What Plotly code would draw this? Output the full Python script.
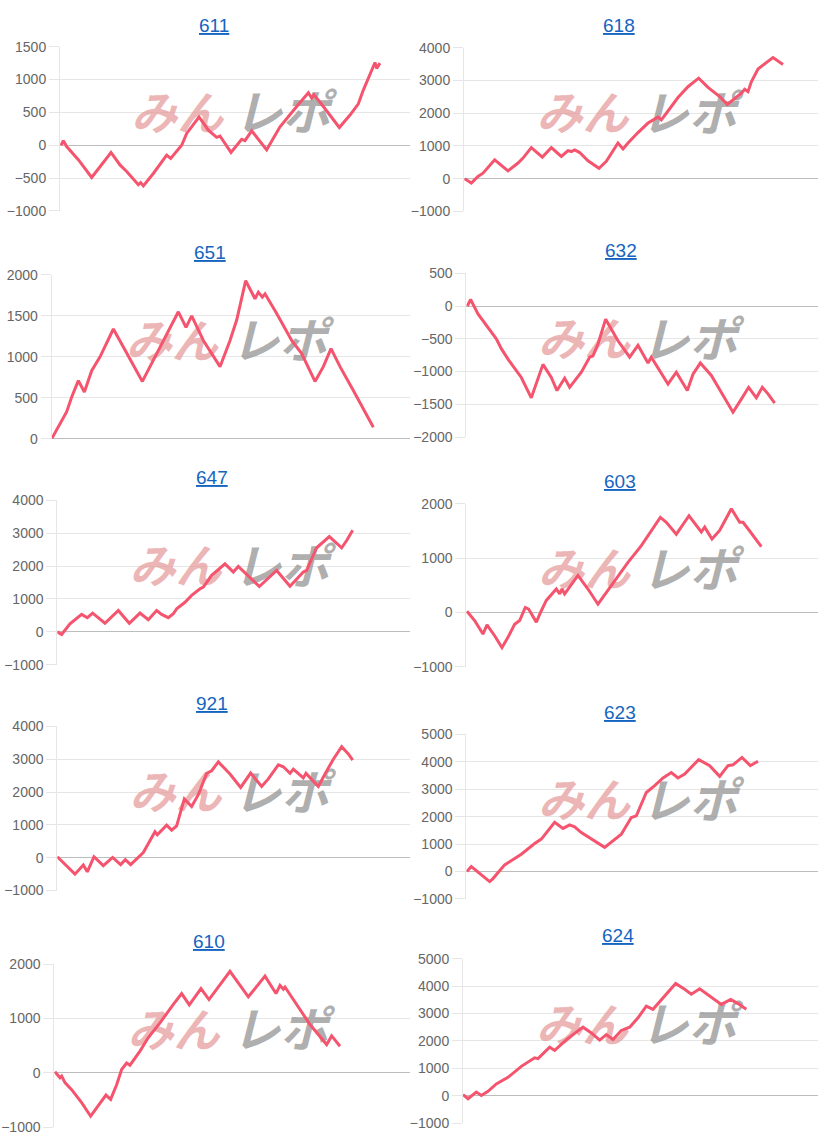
import plotly.graph_objects as go

W, H = 818, 1140

# ---------------- data (x = games, y = difference in coins) ----------------
titles = ["611", "618", "651", "632", "647", "603", "921", "623", "610", "624"]

x_611 = [30, 100, 200, 550, 950, 1200, 1530, 1800, 2000, 2350, 2420, 2500, 2800, 3200, 3320, 3650, 3800, 4170,
         4450, 4700, 4800, 5130, 5450, 5550, 5750, 6200, 6600, 7100, 7450, 7550, 7620, 7900, 8380, 8700, 8950,
         9100, 9300, 9450, 9500, 9600]
y_611 = [0, 70, -20, -220, -490, -320, -110, -300, -400, -600, -570, -620, -430, -150, -200, 0, 180, 430,
         230, 120, 140, -110, 90, 70, 220, -70, 280, 590, 800, 720, 770, 590, 270, 460, 630,
         840, 1070, 1260, 1170, 1250]

x_618 = [20, 220, 420, 570, 920, 1320, 1620, 1770, 2020, 2350, 2620, 2920, 3120, 3220, 3320, 3470, 3720, 4050,
         4270, 4620, 4770, 4920, 5220, 5520, 5820, 5920, 6070, 6320, 6420, 6720, 7040, 7320, 7670, 7900, 8070,
         8320, 8420, 8520, 8620, 8820, 9270, 9570]
y_618 = [0, -130, 70, 170, 580, 240, 480, 630, 950, 660, 950, 680, 860, 830, 880, 800, 550, 320,
         530, 1090, 910, 1090, 1410, 1700, 1880, 1800, 2000, 2320, 2480, 2810, 3070, 2790, 2510, 2270, 2410,
         2610, 2730, 2660, 2960, 3350, 3700, 3490]

x_651 = [0, 250, 450, 600, 800, 980, 1200, 1450, 1850, 2150, 2450, 2720, 3000, 3350, 3800, 4030, 4200, 4550,
         5050, 5350, 5550, 5820, 6100, 6200, 6320, 6400, 6750, 7200, 7500, 7900, 8150, 8380, 8650, 9050, 9650]
y_651 = [0, 180, 330, 510, 710, 570, 830, 1000, 1340, 1120, 900, 700, 920, 1200, 1550, 1360, 1500, 1200,
         880, 1200, 1450, 1930, 1710, 1790, 1730, 1770, 1530, 1200, 1040, 700, 880, 1100, 880, 590, 140]

x_632 = [30, 130, 350, 600, 900, 1050, 1250, 1650, 1950, 2300, 2550, 2720, 2950, 3100, 3450, 3700, 3800, 3950,
         4180, 4550, 4900, 5150, 5450, 5550, 6050, 6300, 6630, 6800, 7020, 7350, 8000, 8250, 8470, 8700, 8880,
         9050, 9250]
y_632 = [0, 100, -120, -300, -500, -650, -810, -1090, -1400, -890, -1090, -1290, -1100, -1240, -1010, -780, -760, -580,
         -200, -530, -780, -600, -870, -780, -1190, -1010, -1290, -1040, -870, -1060, -1620, -1420, -1240, -1400, -1240,
         -1340, -1480]

x_647 = [0, 130, 380, 730, 900, 1060, 1430, 1830, 2160, 2480, 2730, 2980, 3130, 3330, 3480, 3580, 3830, 4030,
         4280, 4380, 4630, 5030, 5280, 5430, 6060, 6580, 6980, 7380, 7480, 7780, 8160, 8530, 8680, 8860]
y_647 = [0, -80, 240, 530, 430, 570, 260, 650, 260, 570, 370, 650, 530, 430, 550, 700, 900, 1110,
         1310, 1360, 1720, 2070, 1820, 1990, 1380, 1870, 1390, 1820, 1870, 2560, 2900, 2560, 2780, 3090]

x_603 = [20, 250, 500, 620, 850, 1070, 1250, 1450, 1600, 1770, 1870, 2100, 2250, 2400, 2700, 2800, 2870, 2950,
         3350, 3650, 3950, 4250, 4650, 4850, 5250, 5820, 6000, 6300, 6680, 7050, 7150, 7370, 7600, 7950, 8200,
         8300, 8450, 8850]
y_603 = [20, -150, -400, -230, -430, -650, -460, -220, -150, 90, 60, -180, 30, 220, 430, 340, 430, 340,
         680, 430, 150, 400, 740, 920, 1230, 1750, 1660, 1440, 1780, 1480, 1570, 1350, 1510, 1910, 1660,
         1660, 1540, 1210]

x_921 = [0, 280, 530, 780, 900, 1100, 1380, 1660, 1900, 2040, 2200, 2580, 2930, 3000, 3280, 3430, 3580, 3810,
         4030, 4230, 4480, 4630, 4830, 5180, 5500, 5800, 6130, 6330, 6630, 6780, 6980, 7080, 7380, 7460, 7830,
         8030, 8280, 8530, 8730, 8860]
y_921 = [30, -240, -500, -220, -430, 30, -240, 10, -210, -60, -210, 160, 790, 700, 990, 840, 970, 1790,
         1560, 1920, 2570, 2650, 2920, 2550, 2140, 2580, 2170, 2400, 2830, 2770, 2570, 2700, 2430, 2570, 2170,
         2550, 3000, 3380, 3160, 2970]

x_623 = [20, 150, 700, 800, 1150, 1650, 2050, 2250, 2650, 2900, 3100, 3250, 3450, 4150, 4650, 4950, 5100, 5400,
         5650, 5900, 6150, 6350, 6550, 6700, 6970, 7300, 7600, 7850, 8000, 8270, 8520, 8750]
y_623 = [0, 180, -370, -260, 240, 630, 1020, 1180, 1790, 1570, 1700, 1630, 1420, 880, 1360, 1970, 2030, 2880,
         3130, 3410, 3610, 3410, 3550, 3740, 4080, 3860, 3470, 3860, 3890, 4160, 3860, 4020]

x_610 = [20, 170, 220, 320, 520, 820, 1090, 1320, 1550, 1690, 1870, 2020, 2170, 2270, 2570, 2820, 3170, 3570,
         3820, 4050, 4400, 4640, 4870, 5270, 5820, 6320, 6650, 6770, 6870, 6920, 7170, 7670, 8170, 8320, 8570]
y_610 = [20, -90, -60, -180, -310, -550, -800, -610, -410, -490, -220, 60, 180, 140, 400, 650, 920, 1260,
         1460, 1250, 1550, 1350, 1540, 1870, 1400, 1780, 1460, 1610, 1540, 1580, 1350, 890, 520, 680, 490]

x_624 = [0, 150, 400, 550, 750, 1000, 1350, 1750, 2150, 2250, 2600, 2750, 3150, 3600, 3850, 4100, 4300, 4500,
         4750, 5000, 5250, 5500, 5700, 5950, 6380, 6650, 6850, 7100, 7750, 8030, 8250, 8500]
y_624 = [40, -110, 130, 10, 160, 430, 670, 1070, 1380, 1350, 1770, 1650, 2090, 2500, 2290, 2030, 2230, 2050,
         2380, 2500, 2840, 3270, 3150, 3510, 4090, 3880, 3700, 3900, 3330, 3510, 3360, 3150]

# y axis ranges / tick steps
y_min = [-1000, -1000, 0, -2000, -1000, -1000, -1000, -1000, -1000, -1000]
y_max = [1500, 4000, 2000, 500, 4000, 2000, 4000, 5000, 2000, 5000]
y_step = [500, 1000, 500, 500, 1000, 1000, 1000, 1000, 1000, 1000]
x_max = [10500, 10620, 10750, 10550, 10580, 10550, 10580, 10550, 10670, 10650]

xs = [x_611, x_618, x_651, x_632, x_647, x_603, x_921, x_623, x_610, x_624]
ys = [y_611, y_618, y_651, y_632, y_647, y_603, y_921, y_623, y_610, y_624]

# ---------------- layout geometry (pixels) ----------------
boxes = [
    (60.0, 410, 46.7, 210.7, 214, 25),
    (464.0, 818, 47.7, 211.3, 619, 25),
    (51.7, 410, 274.7, 438.3, 210, 252.5),
    (466.3, 818, 273.0, 436.7, 620.5, 250.5),
    (57.3, 410, 500.0, 664.0, 211.5, 477.3),
    (466.3, 818, 503.3, 666.0, 620.3, 480.7),
    (57.3, 410, 725.7, 889.7, 211.5, 703.3),
    (466.3, 818, 733.7, 898.0, 620.3, 711.7),
    (54.3, 410, 963.3, 1126.0, 209, 940.7),
    (463.0, 818, 957.7, 1122.0, 618, 935),
]

# vertical correction observed in the rendering pipeline
V_OFF, V_SCALE = 8.0, 0.985


def py(ypx):
    return 1 - ((ypx - V_OFF) / V_SCALE) / H


LINE = "#f5546e"
GRID = "#e6e6e6"
ZERO = "#bdbdbd"
TICKC = "#666666"
PINK = "rgba(228,150,150,0.7)"
GRAY = "rgba(140,140,140,0.7)"
FONT = "Liberation Sans, Arial, sans-serif"
JP = "Noto Sans CJK JP"

fig = go.Figure()
layout = dict(
    width=W, height=H, autosize=False,
    margin=dict(l=0, r=0, t=0, b=0, pad=0),
    paper_bgcolor="white", plot_bgcolor="white",
    showlegend=False,
    font=dict(family=FONT, color=TICKC),
    annotations=[],
)

for i in range(10):
    n = i + 1
    xa = "x" if n == 1 else f"x{n}"
    ya = "y" if n == 1 else f"y{n}"
    l, r, t, b, tx, ty = boxes[i]
    ymin, ymax = y_min[i], y_max[i]
    xr = x_max[i]

    # watermark (drawn first so the line sits on top)
    wy = ymin + 0.565 * (ymax - ymin)
    fig.add_trace(go.Scatter(
        x=[0.335 * xr], y=[wy], xaxis=xa, yaxis=ya, mode="text",
        text=["<b><i>みん</i></b>"], textposition="middle center",
        textfont=dict(family=JP, size=46, color=PINK, weight=900),
        hoverinfo="skip", cliponaxis=False))
    fig.add_trace(go.Scatter(
        x=[0.635 * xr], y=[wy], xaxis=xa, yaxis=ya, mode="text",
        text=["<b><i>レポ</i></b>"], textposition="middle center",
        textfont=dict(family=JP, size=48, color=GRAY, weight=900),
        hoverinfo="skip", cliponaxis=False))

    fig.add_trace(go.Scatter(
        x=xs[i], y=ys[i], xaxis=xa, yaxis=ya, mode="lines",
        line=dict(color=LINE, width=3), hoverinfo="skip"))

    layout["xaxis" if n == 1 else f"xaxis{n}"] = dict(
        domain=[l / W, r / W], range=[0, xr], anchor=ya,
        showgrid=False, zeroline=False, showticklabels=False,
        showline=False, ticks="", fixedrange=True)
    layout["yaxis" if n == 1 else f"yaxis{n}"] = dict(
        domain=[py(b), py(t)], range=[ymin, ymax], anchor=xa,
        dtick=y_step[i], tick0=0,
        showgrid=True, gridcolor=GRID, gridwidth=1,
        zeroline=True, zerolinecolor=ZERO, zerolinewidth=1,
        showline=True, linecolor=GRID, linewidth=1,
        ticks="outside", ticklen=10, tickcolor=GRID,
        tickfont=dict(family=FONT, size=14, color=TICKC),
        fixedrange=True)
    layout["annotations"].append(dict(
        x=tx / W, y=py(ty), xref="paper", yref="paper",
        text=f"<u>{titles[i]}</u>", showarrow=False,
        xanchor="center", yanchor="middle",
        font=dict(family=FONT, size=19, color="#1565c0")))

fig.update_layout(**layout)

fix_page = (
    "var de=document.documentElement, bd=document.body;"
    "de.style.margin='0';de.style.padding='0';de.style.overflow='hidden';"
    "bd.style.margin='0';bd.style.padding='0';bd.style.overflow='hidden';"
)
fig.write_html(
    "out.html",
    config={"responsive": False, "displayModeBar": False},
    post_script=fix_page,
)
